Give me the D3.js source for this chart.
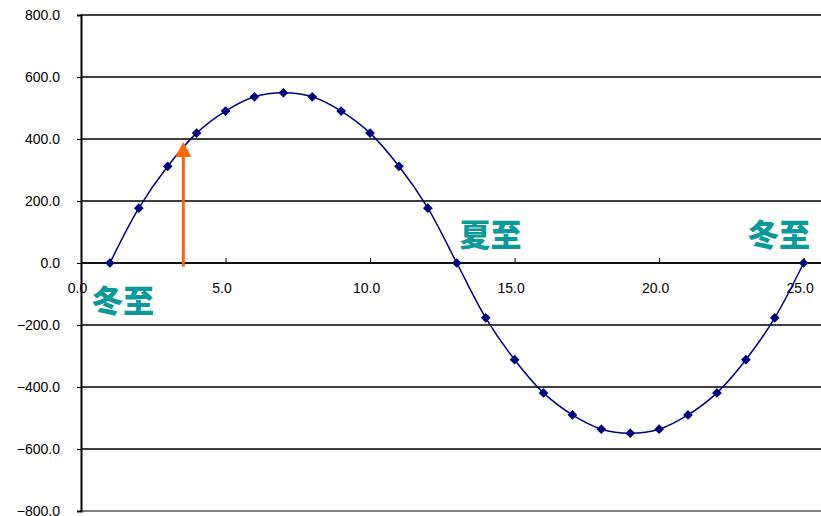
<!DOCTYPE html>
<html>
<head>
<meta charset="utf-8">
<script src="https://cdn.jsdelivr.net/npm/d3@7"></script>
<style>
  html, body { margin: 0; padding: 0; background: #fff; }
  svg { display: block; }
</style>
</head>
<body>
<svg id="chart" width="821" height="516"></svg>
<script>
// ---- data ----
const xValues = [1, 2, 3, 4, 5, 6, 7, 8, 9, 10, 11, 12, 13, 14, 15, 16, 17, 18, 19, 20, 21, 22, 23, 24, 25];
const yValues = [0, 177, 312, 419, 490, 536, 549, 536, 490, 419, 312, 177, 0,
                 -177, -312, -419, -490, -536, -549, -536, -490, -419, -312, -177, 0];
const xTicks = [0, 5, 10, 15, 20, 25];
const yTicks = [-800, -600, -400, -200, 0, 200, 400, 600, 800];
const labels = [
  { text: "冬至", x: 1.45, y: -158 },
  { text: "夏至", x: 14.17, y: 55 },
  { text: "冬至", x: 24.15, y: 55 }
];
const arrowX = 3.54, arrowFrom = -12, arrowTo = 390;

(function () {
// ---- layout ----
const svg = d3.select("#chart");
const pLeft = 81, pTop = 15, pBottom = 511, pRight = 821;
const x = d3.scaleLinear().domain([0, 25.6]).range([pLeft, pRight]);
const y = d3.scaleLinear().domain([-800, 800]).range([pBottom, pTop]);
const fmt = d3.format(".1f");
const fmtY = v => fmt(v).replace("-", "\u2212");

// gridlines
svg.append("g").selectAll("line").data(yTicks.filter(v => v !== -800)).join("line")
  .attr("x1", pLeft).attr("x2", pRight)
  .attr("y1", d => y(d)).attr("y2", d => y(d))
  .attr("stroke", "#000").attr("stroke-width", 1.3);
// bottom plot border
svg.append("line").attr("x1", pLeft).attr("x2", pRight)
  .attr("y1", y(-800)).attr("y2", y(-800))
  .attr("stroke", "#808080").attr("stroke-width", 2);

// y axis
const yAxis = d3.axisLeft(y).tickValues(yTicks).tickFormat(fmtY).tickSize(4).tickPadding(17);
const gy = svg.append("g").attr("transform", `translate(${pLeft},0)`).call(yAxis);
gy.select(".domain").attr("stroke", "#000").attr("stroke-width", 2);
gy.selectAll(".tick line").attr("stroke", "#000");
gy.selectAll("text").attr("font-family", "Liberation Sans, Arial, sans-serif")
  .attr("font-size", 14).attr("fill", "#000");

// x axis at y=0
const xAxis = d3.axisTop(x).tickValues(xTicks).tickFormat(fmt).tickSize(5);
const gx = svg.append("g").attr("transform", `translate(0,${y(0)})`).call(xAxis);
gx.select(".domain").remove();
svg.append("line").attr("x1", pLeft).attr("x2", pRight)
  .attr("y1", y(0)).attr("y2", y(0)).attr("stroke", "#000").attr("stroke-width", 1.3);
gx.selectAll(".tick line").attr("stroke", "#000");
gx.selectAll("text").attr("font-family", "Liberation Sans, Arial, sans-serif")
  .attr("font-size", 14).attr("fill", "#000")
  .attr("y", 30).attr("dx", -4);

// series line
const data = xValues.map((v, i) => ({ x: v, y: yValues[i] }));
const line = d3.line().x(d => x(d.x)).y(d => y(d.y)).curve(d3.curveCatmullRom.alpha(0.5));
svg.append("path").datum(data).attr("d", line)
  .attr("fill", "none").attr("stroke", "#000080").attr("stroke-width", 1.5);

// markers
svg.append("g").selectAll("path").data(data).join("path")
  .attr("d", d3.symbol().type(d3.symbolDiamond2).size(60))
  .attr("transform", d => `translate(${x(d.x)},${y(d.y)})`)
  .attr("fill", "#000080");

// arrow
const ax = x(arrowX), at = y(arrowTo);
svg.append("line")
  .attr("x1", ax).attr("x2", ax)
  .attr("y1", y(arrowFrom)).attr("y2", at + 12)
  .attr("stroke", "#FF6600").attr("stroke-width", 3);
svg.append("path")
  .attr("d", `M${ax},${at} L${ax + 8},${at + 15} L${ax - 8},${at + 15} Z`)
  .attr("fill", "#FF6600");

// annotation labels
svg.append("g").selectAll("text").data(labels).join("text")
  .attr("x", d => x(d.x)).attr("y", d => y(d.y))
  .attr("text-anchor", "middle")
  .attr("font-family", "Noto Sans CJK JP, sans-serif")
  .attr("font-weight", 900).attr("font-size", 31)
  .attr("fill", "#0a9a98")
  .text(d => d.text);
})();
</script>
</body>
</html>
